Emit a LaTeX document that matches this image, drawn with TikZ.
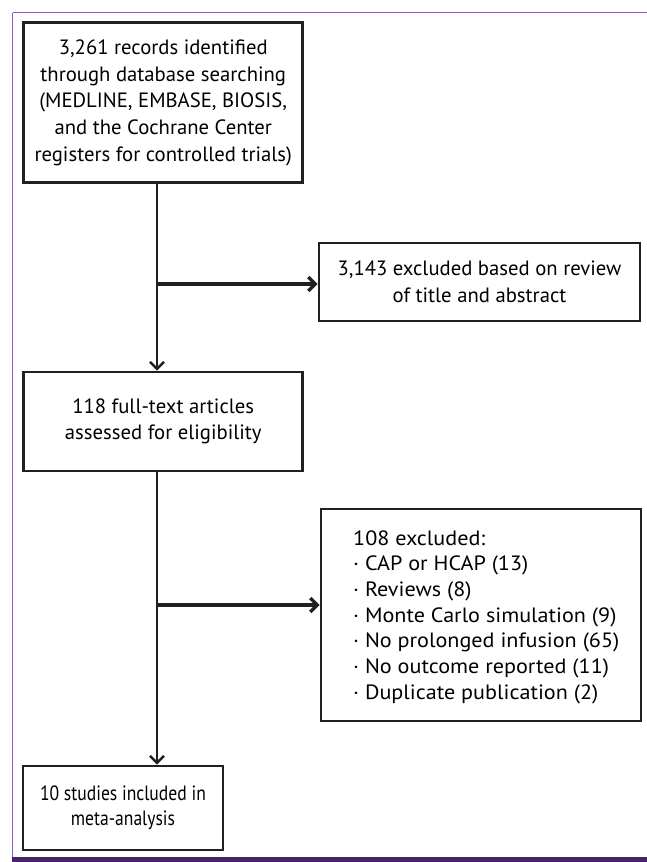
\documentclass[tikz,border=0pt]{standalone}
\usepackage{fontspec}
\usepackage{graphicx}
\setmainfont{PT Sans}
\usetikzlibrary{arrows.meta}
\definecolor{ink}{HTML}{231F20}
\definecolor{framelight}{HTML}{8463AC}
\definecolor{framedark}{HTML}{4A1E72}
\tikzset{
  box/.style={draw=ink, line width=2.6pt, rectangle, inner sep=0pt, text=black,
    font=\fontsize{20.7}{26.6}\selectfont},
  conn/.style={draw=ink, line width=2.6pt},
  arr/.style={conn, -{Straight Barb[length=7pt,width=14pt]}},
  harr/.style={arr, line width=3.4pt},
}
\begin{document}
\begin{tikzpicture}[x=1pt,y=-1pt]
\useasboundingbox (0,0) rectangle (647,862);
% frame
\draw[framelight, line width=1.6pt] (12.5,12.5) -- (647,12.5);
\draw[framelight, line width=1.8pt] (12.5,12.5) -- (12.5,858);
\draw[framedark, line width=4.2pt] (11.5,859.5) -- (647,859.5);
% boxes
\node[box, minimum width=279pt, minimum height=160pt, align=center] (b1) at (163.25,102.75)
  {3,261 records identified\\through database searching\\(MEDLINE, EMBASE, BIOSIS,\\and the Cochrane Center\\registers for controlled trials)};
\node[box, minimum width=321pt, minimum height=78pt, align=center] (b2) at (479.5,282)
  {3,143 excluded based on review\\of title and abstract};
\node[box, minimum width=279pt, minimum height=99pt, align=center] (b3) at (163.25,421.5)
  {118 full-text articles\\assessed for eligibility};
\node[box, minimum width=320pt, minimum height=212pt] (b4) at (481,615) {};
\node[font=\fontsize{20.7}{25.7}\selectfont, anchor=west, inner sep=0pt] (t4) at (353,617)
  {\scalebox{1.07}[1]{\begin{tabular}{@{}l@{}}108 excluded:\\· CAP or HCAP (13)\\· Reviews (8)\\· Monte Carlo simulation (9)\\· No prolonged infusion (65)\\· No outcome reported (11)\\· Duplicate publication (2)\end{tabular}}};
\node[box, minimum width=200pt, minimum height=84pt, font=\fontsize{20.7}{24.5}\selectfont] (b5) at (123,808)
  {\scalebox{0.85}[1]{\begin{tabular}{@{}c@{}}10 studies included in\\meta-analysis\end{tabular}}};
% connectors
\coordinate (sx) at (157,0);
\coordinate (j1) at (157,284);
\coordinate (j2) at (157,605);
\draw[arr] (b1.south -| sx) -- (b3.north -| sx);
\draw[arr] (b3.south -| sx) -- (b5.north -| sx);
\draw[harr] (j1) -- (j1 -| b2.west);
\draw[harr] (j2) -- (j2 -| b4.west);
\end{tikzpicture}
\end{document}
